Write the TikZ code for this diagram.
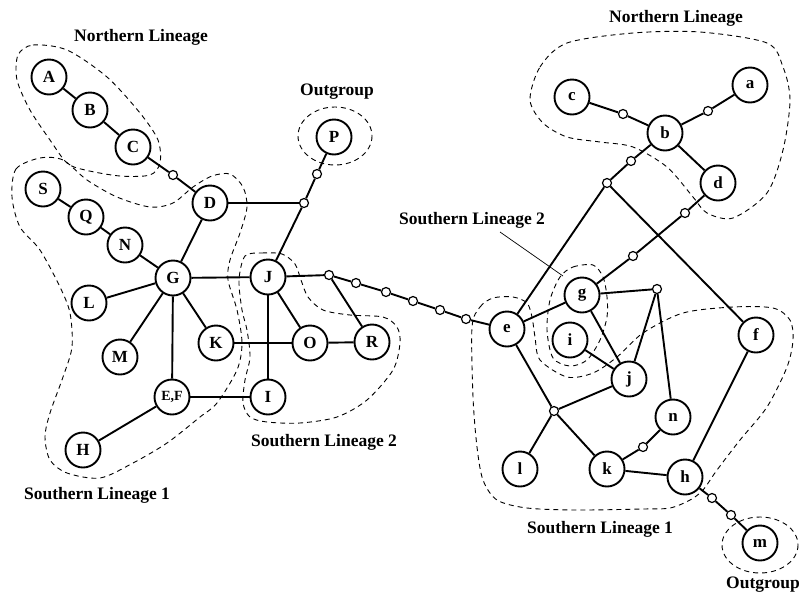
\documentclass[tikz,border=0pt]{standalone}
\usepackage{fontspec}
\setmainfont{Liberation Serif}
\begin{document}
\begin{tikzpicture}[x=1pt,y=-1pt,
  big/.style={circle,draw,line width=1.9pt,fill=white,minimum size=35pt,inner sep=0pt,font=\fontsize{17}{19}\selectfont\bfseries},
  sm/.style={circle,draw,line width=1.2pt,fill=white,minimum size=9pt,inner sep=0pt},
  edge/.style={line width=1.9pt},
  outline/.style={line width=0.9pt,dash pattern=on 5pt off 4pt},
  lab/.style={font=\fontsize{17.5}{20}\selectfont\bfseries,inner sep=0pt},
  leader/.style={line width=0.7pt}]
\useasboundingbox (0,0) rectangle (802,595);

% ---------- dashed outlines ----------
% left Northern Lineage
\draw[outline] plot[smooth cycle] coordinates {(18,55) (33,45) (67,50) (107,77) (140,113) (158,140) (160,163) (150,175) (120,176) (85,170) (67,163) (50,140) (30,110) (17,80)};
% left Southern Lineage 1
\draw[outline] plot[smooth cycle] coordinates {(12,197) (16,169) (40,158) (63,160) (87,180) (117,197) (150,207) (173,203) (193,187) (212,176) (230,174) (243,187) (247,207) (240,233) (230,260) (228,280) (237,310) (242,343) (237,370) (217,403) (200,417) (167,443) (133,463) (100,478) (67,473) (50,460) (45,437) (50,413) (63,377) (72,347) (70,313) (60,287) (40,250) (20,227)};
% left Southern Lineage 2
\draw[outline] plot[smooth cycle] coordinates {(245,256) (262,253) (282,254) (295,264) (301,280) (308,297) (323,310) (350,315) (383,317) (397,327) (400,343) (393,370) (367,400) (337,417) (300,423) (267,422) (250,417) (243,403) (245,380) (250,357) (247,330) (242,310) (239,280)};
% left Outgroup
\draw[outline] (335,136) ellipse [x radius=37, y radius=29];
% right Northern Lineage
\draw[outline] plot[smooth cycle] coordinates {(530,100) (540,67) (567,43) (633,33) (700,32) (767,43) (783,67) (790,100) (783,150) (767,193) (733,218) (707,213) (693,197) (667,167) (633,147) (600,142) (567,137) (543,123)};
% right Southern Lineage 1
\draw[outline] plot[smooth cycle] coordinates {(472,327) (480,307) (493,298) (513,297) (527,303) (532,317) (535,337) (540,360) (567,377) (593,373) (617,357) (643,333) (683,313) (733,307) (773,308) (790,320) (793,340) (787,367) (767,407) (740,440) (717,470) (703,490) (690,500) (670,508) (643,509) (577,510) (527,508) (497,500) (483,480) (477,447) (473,397)};
% right Southern Lineage 2
\draw[outline] plot[smooth cycle] coordinates {(560,277) (573,267) (593,265) (603,277) (607,297) (607,317) (600,340) (587,360) (570,366) (553,358) (547,330) (550,300)};
% right Outgroup
\draw[outline] (760,545) ellipse [x radius=38, y radius=28];

% ---------- left network nodes ----------
\node[big] (A) at (49,77) {A};
\node[big] (B) at (90,110) {B};
\node[big] (C) at (133,147) {C};
\node[sm]  (cd) at (173,175) {};
\node[big] (D) at (210,203) {D};
\node[big] (S) at (43,189) {S};
\node[big] (Q) at (86,217) {Q};
\node[big] (N) at (125,245) {N};
\node[big] (G) at (173,278) {G};
\node[big] (L) at (89,303) {L};
\node[big] (M) at (120,357) {M};
\node[big] (K) at (216,343) {K};
\node[big,font=\fontsize{14}{16}\selectfont\bfseries] (EF) at (172,397) {E,F};
\node[big] (H) at (83,450) {H};
\node[big] (J) at (268,277) {J};
\node[big] (O) at (310,343) {O};
\node[big] (R) at (372,342) {R};
\node[big] (I) at (268,397) {I};
\node[big] (P) at (334,137) {P};
\node[sm]  (pp) at (317,174) {};
\node[sm]  (pd) at (304,203) {};
\node[sm]  (c1) at (329,275) {};
\node[sm]  (c2) at (356,283) {};
\node[sm]  (c3) at (386,292) {};
\node[sm]  (c4) at (413,301) {};
\node[sm]  (c5) at (440,310) {};
\node[sm]  (c6) at (466,319) {};

% ---------- right network nodes ----------
\node[big] (e) at (507,329) {e};
\node[big] (c) at (572,97) {c};
\node[big] (a) at (750,85) {a};
\node[big] (b) at (665,133) {b};
\node[big] (d) at (718,183) {d};
\node[sm]  (cb) at (623,114) {};
\node[sm]  (ba) at (708,111) {};
\node[sm]  (b1) at (631,161) {};
\node[sm]  (b2) at (607,183) {};
\node[sm]  (d1) at (685,213) {};
\node[sm]  (d2) at (633,256) {};
\node[big] (g) at (582,295) {g};
\node[big] (i) at (570,340) {i};
\node[big] (j) at (629,379) {j};
\node[sm]  (gn) at (657,289) {};
\node[big] (n) at (673,417) {n};
\node[big] (f) at (756,335) {f};
\node[big] (h) at (685,477) {h};
\node[big] (k) at (607,469) {k};
\node[big] (l) at (520,469) {l};
\node[sm]  (el) at (554,411) {};
\node[sm]  (kn) at (643,447) {};
\node[sm]  (hm1) at (712,498) {};
\node[sm]  (hm2) at (731,515) {};
\node[big] (m) at (760,543) {m};

% ---------- left edges ----------
\draw[edge] (A) -- (B);
\draw[edge] (B) -- (C);
\draw[edge] (C) -- (cd);
\draw[edge] (cd) -- (D);
\draw[edge] (S) -- (Q);
\draw[edge] (Q) -- (N);
\draw[edge] (N) -- (G);
\draw[edge] (G) -- (D);
\draw[edge] (G) -- (J);
\draw[edge] (G) -- (L);
\draw[edge] (G) -- (M);
\draw[edge] (G) -- (K);
\draw[edge] (G) -- (EF);
\draw[edge] (EF) -- (H);
\draw[edge] (EF) -- (I);
\draw[edge] (J) -- (I);
\draw[edge] (J) -- (O);
\draw[edge] (K) -- (O);
\draw[edge] (O) -- (R);
\draw[edge] (D) -- (pd);
\draw[edge] (pd) -- (J);
\draw[edge] (pd) -- (pp);
\draw[edge] (pp) -- (P);
\draw[edge] (J) -- (c1);
\draw[edge] (c1) -- (R);
\draw[edge] (c1) -- (c2);
\draw[edge] (c2) -- (c3);
\draw[edge] (c3) -- (c4);
\draw[edge] (c4) -- (c5);
\draw[edge] (c5) -- (c6);
\draw[edge] (c6) -- (e);

% ---------- right edges ----------
\draw[edge] (c) -- (cb);
\draw[edge] (cb) -- (b);
\draw[edge] (b) -- (ba);
\draw[edge] (ba) -- (a);
\draw[edge] (b) -- (d);
\draw[edge] (b) -- (b1);
\draw[edge] (b1) -- (b2);
\draw[edge] (b2) -- (e);
\draw[edge] (b2) -- (f);
\draw[edge] (d) -- (d1);
\draw[edge] (d1) -- (d2);
\draw[edge] (d2) -- (g);
\draw[edge] (e) -- (g);
\draw[edge] (g) -- (gn);
\draw[edge] (g) -- (j);
\draw[edge] (i) -- (j);
\draw[edge] (gn) -- (j);
\draw[edge] (gn) -- (n);
\draw[edge] (e) -- (el);
\draw[edge] (el) -- (j);
\draw[edge] (el) -- (l);
\draw[edge] (el) -- (k);
\draw[edge] (k) -- (kn);
\draw[edge] (kn) -- (n);
\draw[edge] (k) -- (h);
\draw[edge] (h) -- (f);
\draw[edge] (h) -- (hm1);
\draw[edge] (hm1) -- (hm2);
\draw[edge] (hm2) -- (m);

% ---------- labels ----------
\node[lab] (tNL) at (141,37) {Northern Lineage};
\node[lab] (tOG) at (337,92) {Outgroup};
\node[lab] (tSL2) at (324,442) {Southern Lineage 2};
\node[lab] (tSL1) at (97,495) {Southern Lineage 1};
\node[lab] (rNL) at (676,18) {Northern Lineage};
\node[lab] (rSL2) at (472,220) {Southern Lineage 2};
\node[lab] (rSL1) at (600,529) {Southern Lineage 1};
\node[lab] (rOG) at (763,585) {Outgroup};
\coordinate (ldA) at (500,232);
\coordinate (ldB) at (563,276);
\draw[leader] (ldA) -- (ldB);
\end{tikzpicture}
\end{document}
